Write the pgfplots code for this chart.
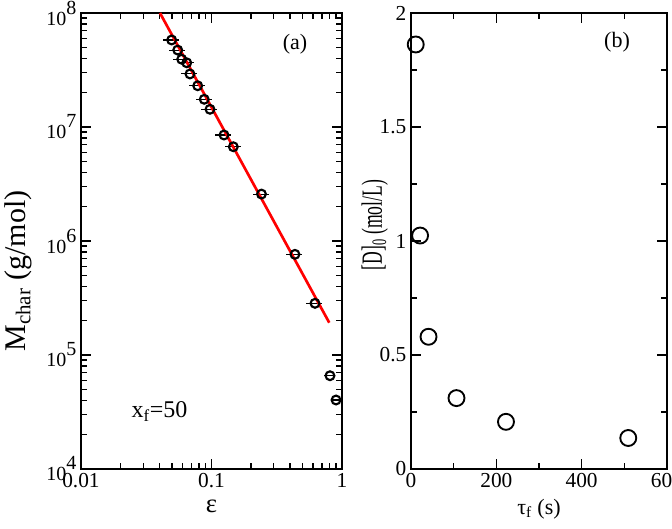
\documentclass[border=0pt]{standalone}
\usepackage{fontspec}
\setmainfont{Liberation Serif}
\usepackage{graphicx}
\usepackage{pgfplots}
\pgfplotsset{compat=1.18}
\newcommand{\pw}[1]{10\raisebox{0.55em}{#1}}
\begin{document}
\begin{tikzpicture}
\pgfplotsset{
  every axis/.append style={
    scale only axis, anchor=south west,
    axis line style={line width=1.3pt},
    every tick/.style={black, line width=1.1pt},
    major tick length=7.5pt, minor tick length=4.5pt,
    tick align=inside,
    /pgf/number format/assume math mode=true,
    tick label style={font=\fontsize{16}{18}\selectfont},
    clip=false,
  }
}
\begin{axis}[
  at={(60.75pt,-351.75pt)}, width=195.75pt, height=342pt,
  xmode=log, ymode=log,
  xmin=0.01, xmax=1, ymin=1e4, ymax=1e8,
  xtick={0.01,0.1,1}, xticklabels={0.01,0.1,1},
  minor xtick={0.02,0.03,0.04,0.05,0.06,0.07,0.08,0.09,0.2,0.3,0.4,0.5,0.6,0.7,0.8,0.9},
  ytick={1e4,1e5,1e6,1e7,1e8},
  yticklabels={\pw{4},\pw{5},\pw{6},\pw{7},\pw{8}},
  minor ytick={2e4,3e4,4e4,5e4,6e4,7e4,8e4,9e4,2e5,3e5,4e5,5e5,6e5,7e5,8e5,9e5,2e6,3e6,4e6,5e6,6e6,7e6,8e6,9e6,2e7,3e7,4e7,5e7,6e7,7e7,8e7,9e7},
  yticklabel style={font=\fontsize{15}{18}\selectfont},
  xlabel={\fontsize{20}{24}\selectfont ε},
  xlabel style={at={(axis description cs:0.5,-0.081)}, anchor=center},
  ylabel={\fontsize{22.5}{26}\selectfont M\textsubscript{char} (g/mol)},
  ylabel style={at={(axis description cs:-0.241,0.434)}, anchor=center},
]
\addplot[only marks, black, mark=o, mark size=3.3pt,
  mark options={line width=1.6pt, fill=white},
  error bars/.cd, x dir=both, x explicit relative,
  error bar style={line width=0.8pt, double, double distance=1.1pt},
  error mark=none]
coordinates {
(0.0495,5.80e7) +- (0.14,0)
(0.0551,4.73e7) +- (0.14,0)
(0.0591,3.93e7) +- (0.14,0)
(0.0646,3.66e7) +- (0.14,0)
(0.0684,2.92e7) +- (0.14,0)
(0.0784,2.30e7) +- (0.14,0)
(0.0880,1.75e7) +- (0.14,0)
(0.0974,1.43e7) +- (0.14,0)
(0.1247,8.51e6) +- (0.14,0)
(0.147,6.71e6) +- (0.14,0)
(0.2416,2.58e6) +- (0.14,0)
(0.436,7.64e5) +- (0.14,0)
(0.621,2.84e5) +- (0.14,0)
(0.809,6.58e4) +- (0.1,0)
(0.900,4.03e4) +- (0.06,0)
};
\addplot[red, line width=2pt, no marks] coordinates {(0.0403,1e8) (0.799,1.92e5)};
\node[font=\fontsize{16.5}{18}\selectfont] at (rel axis cs:0.82,0.932) {(a)};
\node[font=\fontsize{18}{20}\selectfont, anchor=base west] at (rel axis cs:0.176,0.112) {x\textsubscript{f}=50};
\end{axis}
\begin{axis}[
  at={(308.25pt,-351.75pt)}, width=192pt, height=342pt,
  xmin=0, xmax=600, ymin=0, ymax=2,
  xtick={0,200,400,600}, xticklabels={0,200,400,600},
  ytick={0,0.5,1,1.5,2}, yticklabels={0,0.5,1,1.5,2},
  minor x tick num=1, minor y tick num=1,
  xlabel={\fontsize{16.5}{20}\selectfont τ\textsubscript{f} (s)},
  xlabel style={at={(axis description cs:0.5,-0.088)}, anchor=center},
  ylabel={\scalebox{0.6}[1]{\fontsize{22}{24}\selectfont [D]\textsubscript{0} (mol/L)}},
  ylabel style={at={(axis description cs:-0.141,0.535)}, anchor=center},
]
\addplot[only marks, black, mark=o, mark size=6pt, mark options={line width=1.4pt}]
coordinates {
(11.1,1.862)
(21.3,1.024)
(41.1,0.580)
(106.6,0.311)
(222.6,0.207)
(509.2,0.136)
};
\node[font=\fontsize{16.5}{18}\selectfont] at (rel axis cs:0.805,0.936) {(b)};
\end{axis}
\pgfresetboundingbox
\useasboundingbox (0pt,0pt) rectangle (504pt,-396.75pt);
\end{tikzpicture}
\end{document}
